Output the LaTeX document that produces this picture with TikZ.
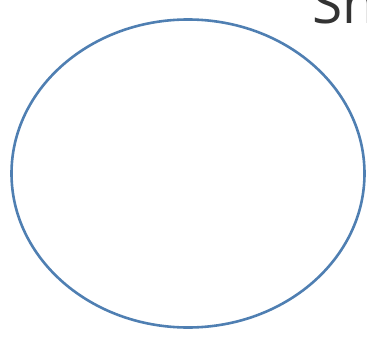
\documentclass[tikz,border=0pt]{standalone}
\usepackage{fontspec}
\setmainfont{Open Sans}
\usetikzlibrary{shapes.geometric}
\definecolor{ringblue}{HTML}{4F7FB2}
\definecolor{textgray}{HTML}{333333}
\tikzset{ring/.style={draw=ringblue,line width=2.6pt,ellipse,minimum width=353pt,minimum height=308pt,inner sep=0pt},
 title/.style={text=textgray,font=\fontsize{55}{60}\selectfont,anchor=base west,inner sep=0pt}}
\begin{document}
\begin{tikzpicture}[x=1pt,y=-1pt]
\useasboundingbox (0,0) rectangle (367,343);
\clip (0,0) rectangle (367,343);
\node[ring] (ring) at (188,173.5) {};
\node[title] (sh) at (312,23) {Sh};
\end{tikzpicture}
\end{document}
